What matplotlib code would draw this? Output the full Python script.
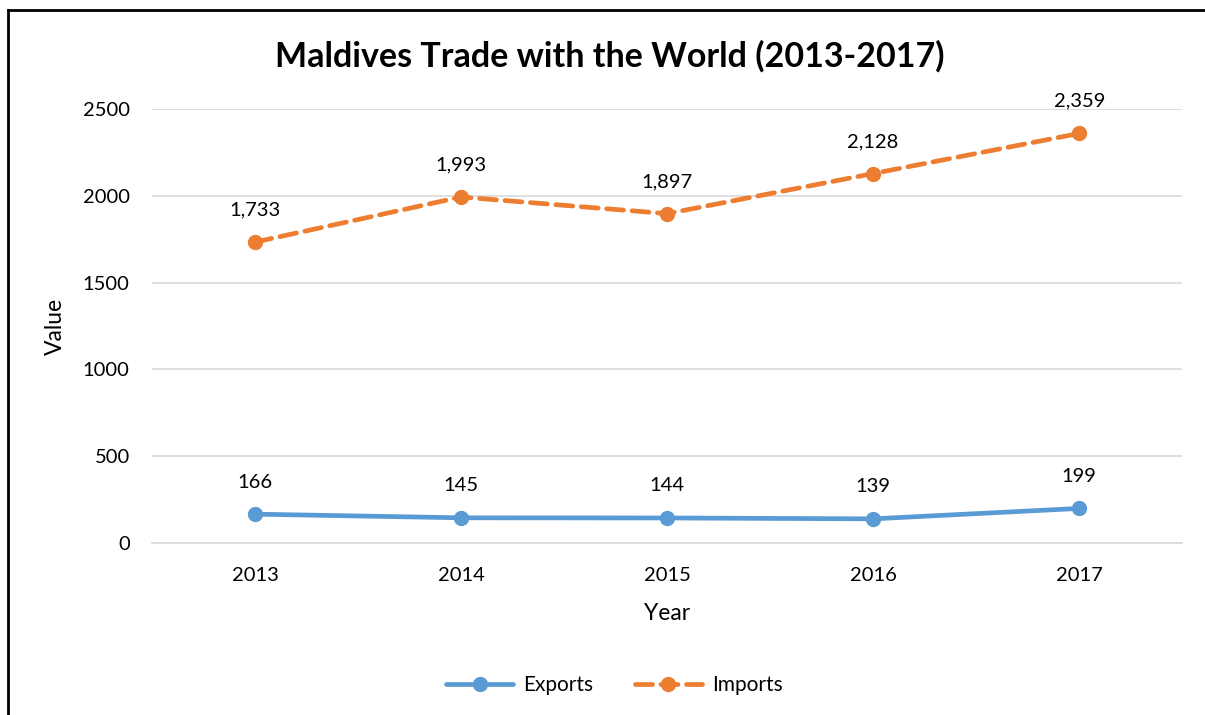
import matplotlib.pyplot as plt
from matplotlib.lines import Line2D

plt.rcParams["font.family"] = ["Lato", "DejaVu Sans"]

years = ["2013", "2014", "2015", "2016", "2017"]
exports = [166, 145, 144, 139, 199]
imports = [1733, 1993, 1897, 2128, 2359]

EXP_COLOR = "#5B9BD5"
IMP_COLOR = "#ED7D31"

fig = plt.figure(figsize=(12.05, 7.15), dpi=100)
ax = fig.add_axes([0.1261, 0.2406, 0.855, 0.607])

x = list(range(len(years)))
ax.plot(x, exports, color=EXP_COLOR, linewidth=3.4, marker="o", markersize=10,
        label="Exports", solid_capstyle="round")
ax.plot(x, imports, color=IMP_COLOR, linewidth=3.4, marker="o", markersize=10,
        linestyle=(0, (3.6, 1.8)), label="Imports", dash_capstyle="round")

for xi, v in zip(x, exports):
    ax.annotate(f"{v:,}", (xi, v), xytext=(0, 17), textcoords="offset points",
                ha="center", va="bottom", fontsize=14.5, color="#000000")
for xi, v in zip(x, imports):
    ax.annotate(f"{v:,}", (xi, v), xytext=(0, 17), textcoords="offset points",
                ha="center", va="bottom", fontsize=14.5, color="#000000")

ax.set_xlim(-0.5, 4.5)
ax.set_ylim(0, 2500)
ax.set_yticks([0, 500, 1000, 1500, 2000, 2500])
ax.set_xticks(x)
ax.set_xticklabels(years)
ax.tick_params(axis="both", length=0, labelsize=14.5)
ax.tick_params(axis="x", pad=17)
ax.tick_params(axis="y", pad=16)
ax.grid(axis="y", color="#D9D9D9", linewidth=1.2)
ax.set_axisbelow(True)
for s in ["top", "right", "left"]:
    ax.spines[s].set_visible(False)
ax.spines["bottom"].set_color("#D9D9D9")
ax.spines["bottom"].set_linewidth(1.2)

ax.set_xlabel("Year", fontsize=16.5, labelpad=14)
ax.set_ylabel("Value", fontsize=16.5, labelpad=12)

fig.text(0.506, 0.922, "Maldives Trade with the World (2013-2017)",
         ha="center", va="center", fontsize=24.5, fontweight="bold")

fig.legend(loc="center", bbox_to_anchor=(0.51, 0.042), ncol=2, frameon=False,
           fontsize=15, handlelength=3.2, columnspacing=2.0, handletextpad=0.5)

# chart border (left and top edges visible)
fig.add_artist(Line2D([0.0066, 0.0066], [0.0, 0.986], transform=fig.transFigure,
                      color="black", linewidth=2))
fig.add_artist(Line2D([0.0066, 1.0], [0.986, 0.986], transform=fig.transFigure,
                      color="black", linewidth=2))

fig.savefig("out.png", dpi=100)
